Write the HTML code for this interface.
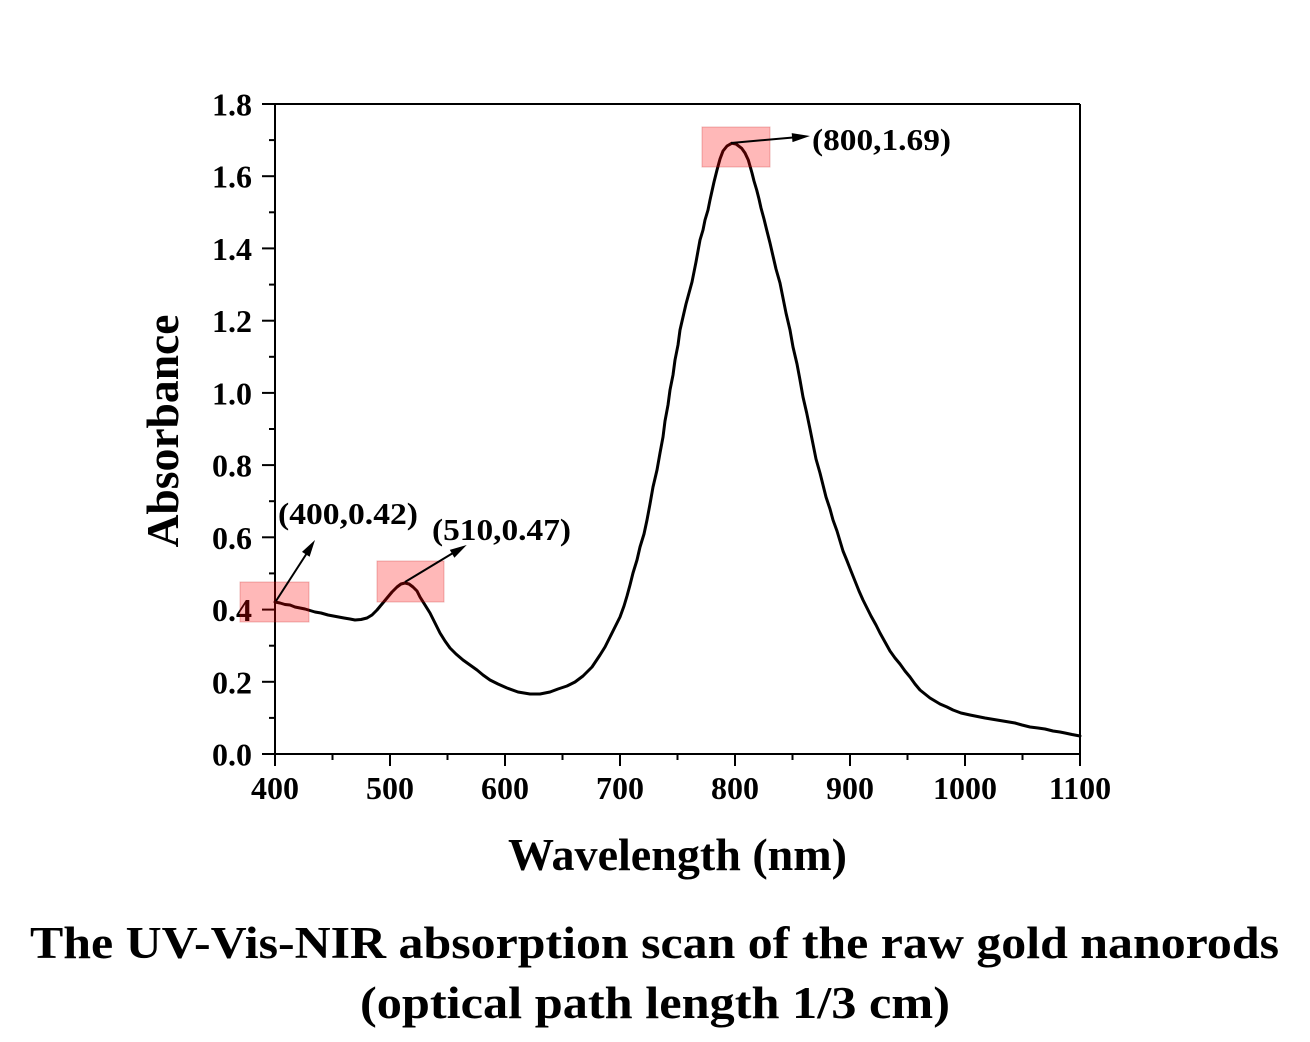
<!DOCTYPE html>
<html>
<head>
<meta charset="utf-8">
<style>
  html,body{margin:0;padding:0;background:#fff;}
  svg{display:block;}
  text{font-family:"Liberation Serif","Times New Roman",serif;font-weight:bold;fill:#000;}
</style>
</head>
<body>
<svg width="1310" height="1042" viewBox="0 0 1310 1042" xmlns="http://www.w3.org/2000/svg">
  <rect x="0" y="0" width="1310" height="1042" fill="#fff"/>

  <!-- frame -->
  <g stroke="#000" stroke-width="2" fill="none">
    <line x1="275" y1="104" x2="1080" y2="104"/>
    <line x1="1080" y1="104" x2="1080" y2="754"/>
    <line x1="275" y1="104" x2="275" y2="755"/>
    <line x1="274" y1="754" x2="1081" y2="754"/>
  </g>

  <!-- y ticks -->
  <g stroke="#000" stroke-width="2">
    <line x1="262" y1="754" x2="275" y2="754"/>
    <line x1="269" y1="717.9" x2="275" y2="717.9"/>
    <line x1="262" y1="681.8" x2="275" y2="681.8"/>
    <line x1="269" y1="645.7" x2="275" y2="645.7"/>
    <line x1="262" y1="609.6" x2="275" y2="609.6"/>
    <line x1="269" y1="573.4" x2="275" y2="573.4"/>
    <line x1="262" y1="537.3" x2="275" y2="537.3"/>
    <line x1="269" y1="501.2" x2="275" y2="501.2"/>
    <line x1="262" y1="465.1" x2="275" y2="465.1"/>
    <line x1="269" y1="429" x2="275" y2="429"/>
    <line x1="262" y1="392.9" x2="275" y2="392.9"/>
    <line x1="269" y1="356.8" x2="275" y2="356.8"/>
    <line x1="262" y1="320.7" x2="275" y2="320.7"/>
    <line x1="269" y1="284.6" x2="275" y2="284.6"/>
    <line x1="262" y1="248.4" x2="275" y2="248.4"/>
    <line x1="269" y1="212.3" x2="275" y2="212.3"/>
    <line x1="262" y1="176.2" x2="275" y2="176.2"/>
    <line x1="269" y1="140.1" x2="275" y2="140.1"/>
    <line x1="262" y1="104" x2="275" y2="104"/>
  </g>

  <!-- x ticks -->
  <g stroke="#000" stroke-width="2">
    <line x1="275" y1="754" x2="275" y2="766"/>
    <line x1="332.5" y1="754" x2="332.5" y2="760"/>
    <line x1="390" y1="754" x2="390" y2="766"/>
    <line x1="447.5" y1="754" x2="447.5" y2="760"/>
    <line x1="505" y1="754" x2="505" y2="766"/>
    <line x1="562.5" y1="754" x2="562.5" y2="760"/>
    <line x1="620" y1="754" x2="620" y2="766"/>
    <line x1="677.5" y1="754" x2="677.5" y2="760"/>
    <line x1="735" y1="754" x2="735" y2="766"/>
    <line x1="792.5" y1="754" x2="792.5" y2="760"/>
    <line x1="850" y1="754" x2="850" y2="766"/>
    <line x1="907.5" y1="754" x2="907.5" y2="760"/>
    <line x1="965" y1="754" x2="965" y2="766"/>
    <line x1="1022.5" y1="754" x2="1022.5" y2="760"/>
    <line x1="1080" y1="754" x2="1080" y2="766"/>
  </g>

  <!-- y tick labels -->
  <g font-size="32" text-anchor="end">
    <text x="252" y="765.5">0.0</text>
    <text x="252" y="693.3">0.2</text>
    <text x="252" y="621.1">0.4</text>
    <text x="252" y="548.8">0.6</text>
    <text x="252" y="476.6">0.8</text>
    <text x="252" y="404.4">1.0</text>
    <text x="252" y="332.2">1.2</text>
    <text x="252" y="259.9">1.4</text>
    <text x="252" y="187.7">1.6</text>
    <text x="252" y="115.5">1.8</text>
  </g>

  <!-- x tick labels -->
  <g font-size="32" text-anchor="middle">
    <text x="275" y="799">400</text>
    <text x="390" y="799">500</text>
    <text x="505" y="799">600</text>
    <text x="620" y="799">700</text>
    <text x="735" y="799">800</text>
    <text x="850" y="799">900</text>
    <text x="965" y="799">1000</text>
    <text x="1080" y="799">1100</text>
  </g>

  <!-- axis titles -->
  <text x="508" y="870" font-size="45" textLength="339" lengthAdjust="spacingAndGlyphs">Wavelength (nm)</text>
  <text transform="translate(178,431) rotate(-90)" font-size="45" textLength="233" lengthAdjust="spacingAndGlyphs" text-anchor="middle">Absorbance</text>

  <!-- curve -->
  <polyline fill="none" stroke="#000" stroke-width="3" stroke-linejoin="round" stroke-linecap="round"
    points="275,602 280,603 285,604.5 290,605 295,607 300,608 305,609 310,610.5 315,612 321,613 328,615 336,616.5 344,618 350,619 355,620 361,619.5 367,618 372,615 377,610 382,604 387,598 392,592 397,587 401,584 405,583 409,584 413,587 417,591 420,597 425,605 430,613 435,623 440,633 445,641 450,648 456,654 463,660 470,665 477,670 483,675 490,680 498,684 507,688 518,692 530,694 540,694 550,692 558,689 567,686 575,682 583,676 592,667 600,655 605,647 610,637 615,627 620,617 624,606 627,596 630,585 633,573 637,560 640,547 644,534 647,520 650,504 653,487 657,470 660,453 663,437 665,421 668,405 670,390 673,375 675,360 678,345 680,330 683,317 686,304 689,293 692,282 694,272 696,262 698,251 700,240 703,230 705,220 708,210 710,200 712,191 714,182 717,170 720,159 723,151 727,146 731.7,143.3 736,144 741.7,148.3 745,153 748.3,160 750,166 752,173 754,181 756.7,190 759,199 761,208 764,219 766.7,230 770,243 773,256 776,269 780,283 783,298 786,313 790,330 793,347 797,364 800,380 803,397 806.7,413 810,429 813,444 816,459 820,473 823,485 826,497 830,509 833,520 837,531 840,541 843,551 846.7,560 851,571 855,581 859,591 863,600 867,608 871,616 876,625 880,633 885,642 890,651 895,658 900,664 905,671 910,677 915,684 920,690 925,694 930,698 935,701 940,704 947,707 953,710 961,713 970,715 985,718 997,720 1006,721.5 1015,723 1022,725 1030,727 1038,728 1045,729 1053,731 1060,732 1065,733 1072,734.5 1080,736"/>

  <!-- highlight boxes -->
  <g fill="#ff0000" fill-opacity="0.28" stroke="#b40000" stroke-opacity="0.25" stroke-width="1">
    <rect x="240" y="582" width="69" height="40"/>
    <rect x="377" y="561" width="67" height="41"/>
    <rect x="702" y="127" width="68" height="40"/>
  </g>

  <!-- arrows -->
  <g stroke="#000" stroke-width="2" fill="none">
    <line x1="276" y1="601" x2="307" y2="553"/>
    <line x1="405" y1="582" x2="453" y2="553"/>
    <line x1="731" y1="143" x2="793" y2="137.5"/>
  </g>
  <g fill="#000">
    <polygon points="315,540 309.6,556.7 302.0,551.9"/>
    <polygon points="466.7,545 454.4,557.7 449.8,549.9"/>
    <polygon points="810,136 792.5,142.1 791.7,133.1"/>
  </g>

  <!-- annotations -->
  <text x="278" y="524" font-size="31" textLength="140" lengthAdjust="spacingAndGlyphs">(400,0.42)</text>
  <text x="432" y="540" font-size="31" textLength="139" lengthAdjust="spacingAndGlyphs">(510,0.47)</text>
  <text x="812" y="150" font-size="31" textLength="139" lengthAdjust="spacingAndGlyphs">(800,1.69)</text>

  <!-- caption -->
  <text x="30" y="958" font-size="45" textLength="1249" lengthAdjust="spacingAndGlyphs">The UV-Vis-NIR absorption scan of the raw gold nanorods</text>
  <text x="360" y="1018" font-size="45" textLength="590" lengthAdjust="spacingAndGlyphs">(optical path length 1/3 cm)</text>
</svg>
</body>
</html>
